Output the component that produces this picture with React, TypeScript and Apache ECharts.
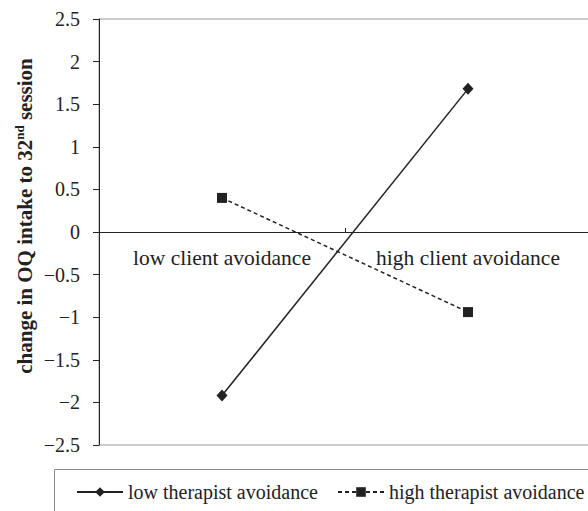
import React, { useEffect, useRef } from "react";
import * as echarts from "echarts";

const categories = ["low client avoidance", "high client avoidance"];
const lowTherapist = [-1.92, 1.68];
const highTherapist = [0.4, -0.94];
const seriesNames = ["low therapist avoidance", "high therapist avoidance"];
const yTitle = "{a|change in OQ intake to 32}{s|nd}{a| session}";

const FONT = "Liberation Serif";

export default function App() {
  const ref = useRef<HTMLDivElement>(null);
  useEffect(() => {
    if (!ref.current) return;
    const chart = echarts.init(ref.current, undefined, { renderer: "svg" });
    const legendCommon = {
      top: 482,
      padding: 0,
      itemWidth: 46,
      itemHeight: 12,
      textStyle: { fontFamily: FONT, fontSize: 20, color: "#222" },
    };
    chart.setOption({
      animation: false,
      backgroundColor: "#fff",
      textStyle: { fontFamily: FONT },
      grid: {
        show: true,
        left: 99,
        right: -3,
        top: 19,
        bottom: 66,
        outerBoundsMode: "none",
        containLabel: false,
        borderColor: "#999",
        borderWidth: 1,
        backgroundColor: "transparent",
      },
      graphic: [
        {
          type: "rect",
          shape: { x: 54.5, y: 469.5, width: 600, height: 80 },
          style: { fill: "none", stroke: "#888", lineWidth: 1 },
          z: -1,
        },
        {
          type: "text",
          x: 25,
          y: 216,
          rotation: Math.PI / 2,
          style: {
            text: yTitle,
            align: "center",
            verticalAlign: "middle",
            rich: {
              a: { fontFamily: FONT, fontWeight: "bold", fontSize: 21, fill: "#222", lineHeight: 24 },
              s: { fontFamily: FONT, fontWeight: "bold", fontSize: 13, fill: "#222", verticalAlign: "top", lineHeight: 24 },
            },
          },
        },
      ],
      legend: [
        { ...legendCommon, left: 76, data: [seriesNames[0]] },
        { ...legendCommon, left: 337, data: [seriesNames[1]] },
      ],
      xAxis: {
        type: "category",
        data: categories,
        boundaryGap: true,
        offset: -213,
        axisLine: { onZero: false, lineStyle: { color: "#222", width: 1 } },
        axisTick: { show: true, inside: true, length: 4, lineStyle: { color: "#222" } },
        axisLabel: { fontFamily: FONT, fontSize: 21.5, color: "#222", margin: 15 },
        splitLine: { show: false },
      },
      yAxis: {
        type: "value",
        min: -2.5,
        max: 2.5,
        interval: 0.5,
        axisLine: { show: true, onZero: false, lineStyle: { color: "#222", width: 1 } },
        axisTick: { show: true, inside: false, length: 6, lineStyle: { color: "#222" } },
        axisLabel: {
          fontFamily: FONT,
          fontSize: 20,
          color: "#222",
          margin: 19,
          formatter: (v: number) => String(v).replace("-", "\u2212"),
        },
        splitLine: { show: false },
      },
      series: [
        {
          name: seriesNames[0],
          type: "line",
          data: lowTherapist,
          symbol: "diamond",
          symbolSize: [11, 12],
          lineStyle: { color: "#222", width: 1.5, type: "solid" },
          itemStyle: { color: "#222" },
        },
        {
          name: seriesNames[1],
          type: "line",
          data: highTherapist,
          symbol: "rect",
          symbolSize: 10,
          lineStyle: { color: "#222", width: 1.5, type: [4, 3] },
          itemStyle: { color: "#222" },
        },
      ],
    });
    return () => chart.dispose();
  }, []);
  return (
    <div
      ref={ref}
      style={{ position: "fixed", left: 0, top: 0, width: 588, height: 511 }}
    />
  );
}
